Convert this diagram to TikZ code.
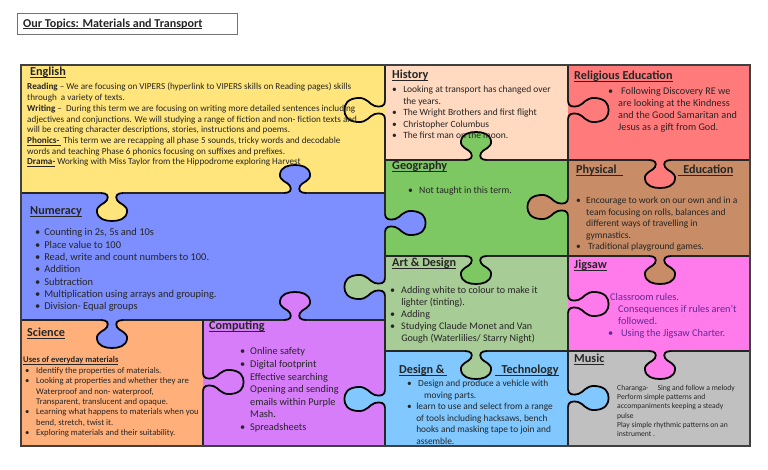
\documentclass[tikz,border=0pt]{standalone}
\usepackage{fontspec}
\setmainfont{Carlito}

\definecolor{english}{RGB}{255,229,124}
\definecolor{numeracy}{RGB}{125,143,255}
\definecolor{science}{RGB}{255,176,122}
\definecolor{computing}{RGB}{215,125,250}
\definecolor{history}{RGB}{255,217,192}
\definecolor{geography}{RGB}{125,200,98}
\definecolor{art}{RGB}{168,204,150}
\definecolor{dandt}{RGB}{128,200,255}
\definecolor{religion}{RGB}{255,123,123}
\definecolor{pe}{RGB}{200,140,102}
\definecolor{jigsaw}{RGB}{255,122,234}
\definecolor{music}{RGB}{192,192,192}
\definecolor{jigtext}{RGB}{100,40,150}

\tikzset{
  cell line/.style={line width=1.1pt, black!85},
  tab line/.style={line width=1.5pt, black},
  tab down/.style={},
  tab up/.style={rotate=180},
  tab right/.style={rotate=90},
  tab left/.style={rotate=-90},
  long tab/.style={xscale=0.8, yscale=1.45},
  head/.style={anchor=north west, inner sep=0pt, text=black!85, font=\fontsize{10.4}{12}\selectfont\bfseries},
  body/.style={anchor=north west, inner sep=0pt, align=left, text=black!85},
}

\newcommand{\ul}[1]{\underline{\smash{#1}}\vphantom{#1}}
\newcommand{\bul}[1]{\makebox[#1][l]{\textbullet}}
\newcommand{\tabcurve}{(-11,0) .. controls (-5,0) and (-3,3) .. (-5,7)
  .. controls (-7,11) and (-16,12) .. (-15,19) .. controls (-14,26) and (-7,28) .. (0,28)
  .. controls (7,28) and (14,26) .. (15,19) .. controls (16,12) and (7,11) .. (5,7)
  .. controls (3,3) and (5,0) .. (11,0)}
\newcommand{\tab}[4]{%
  \begin{scope}[shift={#1}, #2]
    \fill[#4] (-11,-2) rectangle (11,0);
    \fill[#3] \tabcurve -- cycle;
    \draw[tab line] \tabcurve;
  \end{scope}}

\begin{document}
\begin{tikzpicture}[x=0.03cm, y=-0.03cm]
  \useasboundingbox (0,0) rectangle (768,469);

  % pieces
  \fill[english] (21,65) rectangle (385,193);
  \fill[numeracy] (21,193) rectangle (385,320);
  \fill[science] (21,320) rectangle (203,446);
  \fill[computing] (203,320) rectangle (385,446);
  \fill[history] (385,65) rectangle (568,160);
  \fill[geography] (385,160) rectangle (568,256);
  \fill[art] (385,256) rectangle (568,351);
  \fill[dandt] (385,351) rectangle (568,446);
  \fill[religion] (568,65) rectangle (750,160);
  \fill[pe] (568,160) rectangle (750,256);
  \fill[jigsaw] (568,256) rectangle (750,351);
  \fill[music] (568,351) rectangle (750,446);

  \draw[cell line] (385,65) -- (385,446);
  \draw[cell line] (568,65) -- (568,446);
  \draw[cell line] (203,320) -- (203,446);
  \draw[cell line] (21,193) -- (385,193);
  \draw[cell line] (21,320) -- (385,320);
  \draw[cell line] (385,160) -- (750,160);
  \draw[cell line] (385,256) -- (750,256);
  \draw[cell line] (385,351) -- (750,351);

  % tabs
  \tab{(112,193)}{tab down}{english}{english}
  \tab{(295,193)}{tab up}{numeracy}{numeracy}
  \tab{(385,110)}{tab left, long tab}{english}{history}
  \tab{(112,320)}{tab down}{numeracy}{numeracy}
  \tab{(295,320)}{tab up}{computing}{computing}
  \tab{(385,223)}{tab right, long tab}{numeracy}{numeracy}
  \tab{(385,287)}{tab left, long tab}{art}{art}
  \tab{(203,382)}{tab right, long tab}{computing}{science}
  \tab{(385,399)}{tab left, long tab}{dandt}{dandt}
  \tab{(476,160)}{tab up}{geography}{geography}
  \tab{(476,256)}{tab down}{geography}{geography}
  \tab{(476,351)}{tab down}{art}{art}
  \tab{(568,110)}{tab right, long tab}{religion}{history}
  \tab{(568,207)}{tab left, long tab}{pe}{pe}
  \tab{(660,160)}{tab down}{religion}{religion}
  \tab{(568,304)}{tab right, long tab}{jigsaw}{art}
  \tab{(660,256)}{tab down}{pe}{pe}
  \tab{(660,351)}{tab down}{jigsaw}{jigsaw}
  \tab{(568,398)}{tab right, long tab}{dandt}{dandt}

  \draw[line width=1.6pt, black!75] (21,65) rectangle (750,446);

  % title
  \draw[black!55, line width=0.8pt] (17,13) rectangle (237,34);
  \node[anchor=west, inner sep=0pt, font=\fontsize{10.3}{12}\selectfont\bfseries, text=black!85] (title) at (23,24) {\ul{Our Topics: Materials and Transport}};

  % English
  \node[head] (eng-head) at (30,67) {\ul{English}};
  \node[body, font=\fontsize{7.8}{9.15}\selectfont] (eng-text) at (27,83) {\textbf{Reading} – We are focusing on VIPERS (hyperlink to VIPERS skills on Reading pages) skills\\
    through\ \ a variety of texts.\\
    \textbf{Writing} – \ During this term we are focusing on writing more detailed sentences including\\
    adjectives and conjunctions. We will studying a range of fiction and non- fiction texts and\\
    will be creating character descriptions, stories, instructions and poems.\\
    \ul{\textbf{Phonics-}\ }\ This term we are recapping all phase 5 sounds, tricky words and decodable\\
    words and teaching Phase 6 phonics focusing on suffixes and prefixes.\\
    \ul{\textbf{Drama-}} Working with Miss Taylor from the Hippodrome exploring Harvest};

  % History
  \node[head] (his-head) at (392,70) {\ul{History}};
  \node[body, font=\fontsize{8.1}{9.8}\selectfont] (his-text) at (392,86) {\bul{9.4pt}Looking at transport has changed over\\
    \hspace*{9.4pt}the years.\\
    \bul{9.4pt}The Wright Brothers and first flight\\
    \bul{9.4pt}Christopher Columbus\\
    \bul{9.4pt}The first man on the moon.};

  % Religious Education
  \node[head] (re-head) at (574,71) {\ul{Religious Education}};
  \node[body, font=\fontsize{8.7}{10.2}\selectfont] (re-text) at (608,87.5) {\bul{11pt}Following Discovery RE we\\
    \hspace*{8.5pt}are looking at the Kindness\\
    \hspace*{8.5pt}and the Good Samaritan and\\
    \hspace*{8.5pt}Jesus as a gift from God.};

  % Geography
  \node[head] (geo-head) at (392,161) {\ul{Geography}};
  \node[body, font=\fontsize{8.3}{9.8}\selectfont] (geo-text) at (408,186.7) {\bul{9.4pt}Not taught in this term.};

  % Physical Education
  \node[head] (pe-head) at (576,165) {\ul{\makebox[40pt][l]{Physical}}};
  \node[head] (pe-head2) at (678,165) {\ul{\makebox[47pt][r]{Education}}};
  \node[body, font=\fontsize{8.1}{9.8}\selectfont] (pe-text) at (576,197) {\bul{8.5pt}Encourage to work on our own and in a\\
    \hspace*{8.5pt}team focusing on rolls, balances and\\
    \hspace*{8.5pt}different ways of travelling in\\
    \hspace*{8.5pt}gymnastics.\\
    \bul{10.2pt}Traditional playground games.};

  % Numeracy
  \node[head] (num-head) at (30,206) {\ul{Numeracy}};
  \node[body, font=\fontsize{8.9}{10.5}\selectfont] (num-text) at (35,228.5) {\bul{7.7pt}Counting in 2s, 5s and 10s\\
    \bul{7.7pt}Place value to 100\\
    \bul{7.7pt}Read, write and count numbers to 100.\\
    \bul{7.7pt}Addition\\
    \bul{7.7pt}Subtraction\\
    \bul{7.7pt}Multiplication using arrays and grouping.\\
    \bul{7.7pt}Division- Equal groups};

  % Art & Design
  \node[head] (art-head) at (392,258) {\ul{Art \& Design}};
  \node[body, font=\fontsize{8.6}{10.2}\selectfont] (art-text) at (390,286.5) {\bul{9.4pt}Adding white to colour to make it\\
    \hspace*{9.4pt}lighter (tinting).\\
    \bul{9.4pt}Adding\\
    \bul{9.4pt}Studying Claude Monet and Van\\
    \hspace*{9.4pt}Gough (Waterlilies/ Starry Night)};

  % Jigsaw
  \node[head] (jig-head) at (574,260) {\ul{Jigsaw}};
  \node[body, text=jigtext, font=\fontsize{8.8}{10.2}\selectfont] (jig-text) at (608,293.5) {\hspace*{1.7pt}Classroom rules.\\
    \hspace*{8.5pt}Consequences if rules aren’t\\
    \hspace*{8.5pt}followed.\\
    \bul{11pt}Using the Jigsaw Charter.};

  % Science
  \node[head] (sci-head) at (27,328) {\ul{Science}};
  \node[body, font=\fontsize{7.3}{8.9}\selectfont\bfseries] (sci-sub) at (23,356.5) {\ul{Uses of everyday materials}};
  \node[body, font=\fontsize{7.4}{8.9}\selectfont] (sci-text) at (25,367) {\bul{9.4pt}Identify the properties of materials.\\
    \bul{9.4pt}Looking at properties and whether they are\\
    \hspace*{9.4pt}Waterproof and non- waterproof,\\
    \hspace*{9.4pt}Transparent, translucent and opaque.\\
    \bul{9.4pt}Learning what happens to materials when you\\
    \hspace*{9.4pt}bend, stretch, twist it.\\
    \bul{9.4pt}Exploring materials and their suitability.};

  % Computing
  \node[head] (com-head) at (209,321) {\ul{Computing}};
  \node[body, font=\fontsize{8.8}{10.75}\selectfont] (com-text) at (240,347.5) {\bul{8.5pt}Online safety\\
    \bul{8.5pt}Digital footprint\\
    \hspace*{8.5pt}Effective searching\\
    \hspace*{8.5pt}Opening and sending\\
    \hspace*{8.5pt}emails within Purple\\
    \hspace*{8.5pt}Mash.\\
    \bul{8.5pt}Spreadsheets};

  % Design & Technology
  \node[head] (dt-head) at (399,365) {\ul{\makebox[41pt][l]{Design \&}}};
  \node[head] (dt-head2) at (495,365) {\ul{\makebox[54pt][r]{Technology}}};
  \node[body, font=\fontsize{8}{9.8}\selectfont] (dt-text) at (407,380) {\bul{9.4pt}Design and produce a vehicle with\\
    \hspace*{14.5pt}moving parts.\\
    \bul{7.7pt}learn to use and select from a range\\
    \hspace*{7.7pt}of tools including hacksaws, bench\\
    \hspace*{7.7pt}hooks and masking tape to join and\\
    \hspace*{7.7pt}assemble.};

  % Music
  \node[head] (mus-head) at (574,354) {\ul{Music}};
  \node[body, font=\fontsize{6.5}{8}\selectfont] (mus-text) at (617,384.5) {Charanga-\hspace{1.2em}Sing and follow a melody\\
    Perform simple patterns and\\
    accompaniments keeping a steady\\
    pulse\\
    Play simple rhythmic patterns on an\\
    instrument .};
\end{tikzpicture}
\end{document}
